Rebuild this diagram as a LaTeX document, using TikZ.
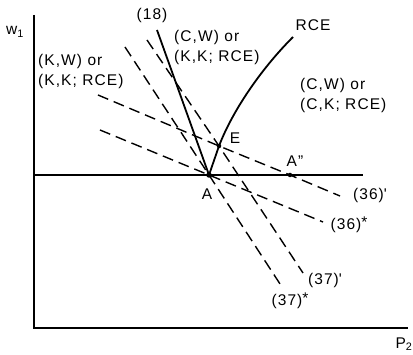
\documentclass[tikz,border=0pt]{standalone}
\usepackage{fontspec}
\setmainfont{Liberation Sans}
\usetikzlibrary{positioning}

\begin{document}
\begin{tikzpicture}[x=1pt, y=-1pt,
  every node/.style={font=\fontsize{15.5}{20}\selectfont\addfontfeature{LetterSpace=7}, inner sep=0pt},
  axisline/.style={line width=2pt},
  curveline/.style={line width=1.8pt},
  budgetline/.style={line width=1.4pt, dash pattern=on 11pt off 6pt},
  regionlabel/.style={align=left, anchor=west},
  eqdot/.style={circle, fill=black, minimum size=5.5pt, inner sep=0pt},
]
\useasboundingbox (0,0) rectangle (413,355);

% Axes
\coordinate (O) at (33.5,328);
\coordinate (ytop) at (33.5,15);
\coordinate (xend) at (408,328);
\draw[axisline] (ytop) -- (O) -- (xend);
\node (w1) at (15,32) {w\textsubscript{1}};
\node (p2) at (404,344) {P\textsubscript{2}};

% Points
\coordinate (A) at (209,175);
\coordinate (E) at (219,146);
\coordinate (App) at (290,175);

% Horizontal line through A
\coordinate (hl) at (33.5,175);
\coordinate (hr) at (363,175);
\draw[curveline] (hl) -- (hr);

% Dashed lines (36) and (37)
\coordinate (s36s) at (100,130);
\coordinate (e36s) at (323,222);
\coordinate (s36p) at (98,95);
\coordinate (e36p) at (340,196);
\coordinate (s37s) at (125,47);
\coordinate (e37s) at (282,287);
\coordinate (s37p) at (147,40);
\coordinate (e37p) at (303,273);
\draw[budgetline] (s36s) -- (A) -- (e36s);
\draw[budgetline] (s36p) -- (E) -- (App) -- (e36p);
\draw[budgetline] (s37s) -- (A) -- (e37s);
\draw[budgetline] (s37p) -- (E) -- (e37p);

% Line (18) and RCE curve
\coordinate (s18) at (157,30);
\coordinate (rce) at (293,37);
\draw[curveline] (s18) -- (A);
\draw[curveline] (A) -- (E) .. controls (232,112) and (260,70) .. (rce);

\node[eqdot] (dotA) at (A) {};
\node[eqdot, minimum size=4.5pt] (dotE) at (E) {};
\node[eqdot, minimum size=4.5pt] (dotApp) at (App) {};

% Labels
\node (l18) at (152,15) {(18)};
\node (lrce) at (313,25) {RCE};
\node (lA) at (207,194) {A};
\node (lE) at (235,138) {E};
\node (lApp) at (295,161) {A"};
\node (l36p) at (370,195) {(36)\textquotesingle};
\node (l36s) at (349,225) {(36)\raisebox{2pt}{*}};
\node (l37p) at (325,280) {(37)\textquotesingle};
\node (l37s) at (290,301) {(37)\raisebox{2pt}{*}};

\node[regionlabel] (kw) at (38,71) {(K,W) or\\(K,K; RCE)};
\node[regionlabel] (cwk) at (174,47) {(C,W) or\\(K,K; RCE)};
\node[regionlabel] (cwc) at (300,95) {(C,W) or\\(C,K; RCE)};

\end{tikzpicture}
\end{document}
